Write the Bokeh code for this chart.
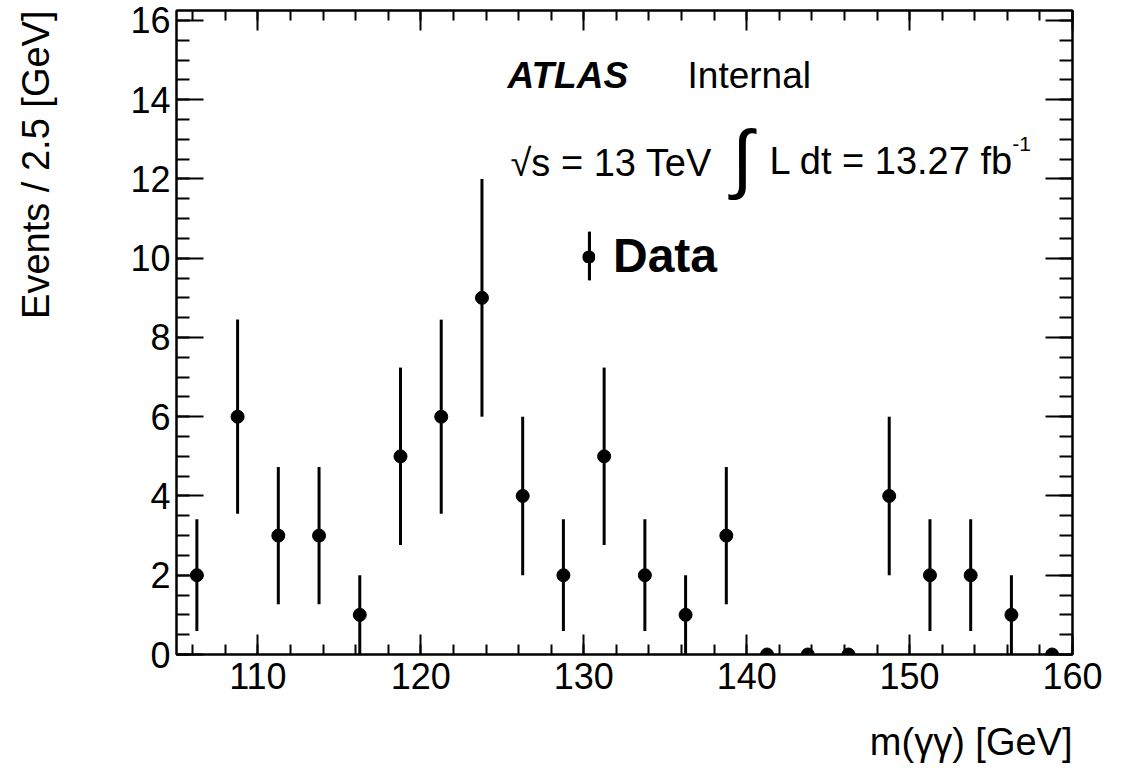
import math
from bokeh.plotting import figure
from bokeh.models import (ColumnDataSource, LinearAxis, SingleIntervalTicker, Range1d,
                          Label, Title, Legend, LegendItem)
from bokeh.embed import file_html
from bokeh.resources import INLINE

# ---- data ----
bin_centers = [106.25, 108.75, 111.25, 113.75, 116.25, 118.75, 121.25, 123.75,
               126.25, 128.75, 131.25, 133.75, 136.25, 138.75, 141.25, 143.75,
               146.25, 148.75, 151.25, 153.75, 156.25, 158.75]
counts = [2, 6, 3, 3, 1, 5, 6, 9, 4, 2, 5, 2, 1, 3, 0, 0, 0, 4, 2, 2, 1, 0]
stat_err = [1.41, 2.45, 1.73, 1.73, 1.0, 2.24, 2.45, 3.0, 2.0, 1.41, 2.24, 1.41,
            1.0, 1.73, 0.0, 0.0, 0.0, 2.0, 1.41, 1.41, 1.0, 0.0]

x_label = "m(γγ) [GeV]"
y_label = "Events / 2.5 [GeV]"
legend_label = "Data"

lower = [c - e for c, e in zip(counts, stat_err)]
upper = [c + e for c, e in zip(counts, stat_err)]
src = ColumnDataSource(dict(x=bin_centers, y=counts, lo=lower, hi=upper))

FONT = "Liberation Sans"

p = figure(frame_width=896, frame_height=644, output_backend="svg", toolbar_location=None,
           x_range=Range1d(105, 160), y_range=Range1d(0, 16.25),
           min_border_left=176, min_border_right=40, min_border_top=10, min_border_bottom=0)
p.xgrid.visible = False
p.ygrid.visible = False
p.outline_line_color = "black"
p.outline_line_width = 2
p.background_fill_color = "white"
p.border_fill_color = "white"


def style_common(ax):
    ax.major_tick_out = 0
    ax.minor_tick_out = 0
    ax.axis_line_width = 2
    ax.major_tick_line_width = 2
    ax.minor_tick_line_width = 2
    ax.axis_line_color = "black"
    ax.major_tick_line_color = "black"
    ax.minor_tick_line_color = "black"


def style_x(ax, labels=True):
    ax.ticker = SingleIntervalTicker(interval=10, num_minor_ticks=5)
    style_common(ax)
    ax.major_tick_in = 20
    ax.minor_tick_in = 10
    if labels:
        ax.major_label_text_font = FONT
        ax.major_label_text_font_size = "36px"
        ax.major_label_text_color = "black"
        ax.major_label_standoff = 8
    else:
        ax.major_label_text_font_size = "0px"
        ax.major_label_standoff = 0


def style_y(ax, labels=True):
    ax.ticker = SingleIntervalTicker(interval=2, num_minor_ticks=4)
    style_common(ax)
    ax.major_tick_in = 27
    ax.minor_tick_in = 13
    if labels:
        ax.major_label_text_font = FONT
        ax.major_label_text_font_size = "36px"
        ax.major_label_text_color = "black"
        ax.major_label_standoff = 6
    else:
        ax.major_label_text_font_size = "0px"
        ax.major_label_standoff = 0


style_x(p.xaxis[0])
style_y(p.yaxis[0])
top_ax = LinearAxis()
style_x(top_ax, labels=False)
p.add_layout(top_ax, "above")
right_ax = LinearAxis()
style_y(right_ax, labels=False)
p.add_layout(right_ax, "right")

# axis titles placed at the axis ends (ROOT style); thin spacer titles set the gaps
p.add_layout(Title(text=" ", text_font_size="1px", standoff=56), "left")
p.add_layout(Title(text=y_label, align="right", offset=0, standoff=24,
                   text_font=FONT, text_font_size="38px", text_font_style="normal",
                   text_color="black"), "left")
p.add_layout(Title(text=" ", text_font_size="1px", standoff=22), "below")
p.add_layout(Title(text=x_label, align="right", offset=0, standoff=4,
                   text_font=FONT, text_font_size="38px", text_font_style="normal",
                   text_color="black"), "below")

# data
err_r = p.segment(x0="x", y0="lo", x1="x", y1="hi", source=src, line_width=3, line_color="black")
pts_r = p.scatter("x", "y", source=src, size=13, color="black")

# legend symbol: vertical error bar + dot (legend-only renderers, nothing drawn in the frame)
nan = float("nan")
bar_r = p.vbar(x=[nan], top=[nan], width=0.1, fill_color="black", line_color=None)
dot_r = p.scatter(x=[nan], y=[nan], size=5, fill_color="black", line_color="black", line_width=8)

legend_bar = Legend(items=[LegendItem(label=legend_label, renderers=[bar_r])],
                    location=(411, 368), padding=0, margin=0, spacing=0,
                    border_line_alpha=0, background_fill_alpha=0,
                    glyph_width=4, glyph_height=61, label_height=61, label_standoff=22,
                    label_text_font=FONT, label_text_font_style="bold",
                    label_text_font_size="48px", label_text_color="black")
p.add_layout(legend_bar)
legend_dot = Legend(items=[LegendItem(label=" ", renderers=[dot_r])],
                    location=(406, 391), padding=0, margin=0, spacing=0,
                    border_line_alpha=0, background_fill_alpha=0,
                    glyph_width=13, glyph_height=13, label_height=13, label_width=0,
                    label_standoff=0, label_text_font_size="1px")
p.add_layout(legend_dot)

# texts
p.add_layout(Label(x=125.32, y=14.61, text="ATLAS", text_font=FONT, text_font_size="37px",
                   text_font_style="bold italic", text_baseline="alphabetic", text_color="black"))
p.add_layout(Label(x=136.37, y=14.61, text="Internal", text_font=FONT, text_font_size="37px",
                   text_baseline="alphabetic", text_color="black"))
p.add_layout(Label(x=125.5, y=12.41, text="√s = 13 TeV", text_font=FONT, text_font_size="38px",
                   text_baseline="alphabetic", text_color="black"))
p.add_layout(Label(x=139.74, y=12.55, text="∫", text_font=FONT, text_font_size="76px",
                   text_align="center", text_baseline="middle", text_color="black"))
p.add_layout(Label(x=141.4, y=12.45, text="L dt = 13.27 fb", text_font=FONT, text_font_size="38px",
                   text_baseline="alphabetic", text_color="black"))
p.add_layout(Label(x=156.3, y=12.88, text="-1", text_font=FONT, text_font_size="21px",
                   text_baseline="alphabetic", text_color="black"))

open("out.html", "w").write(file_html(p, INLINE))
